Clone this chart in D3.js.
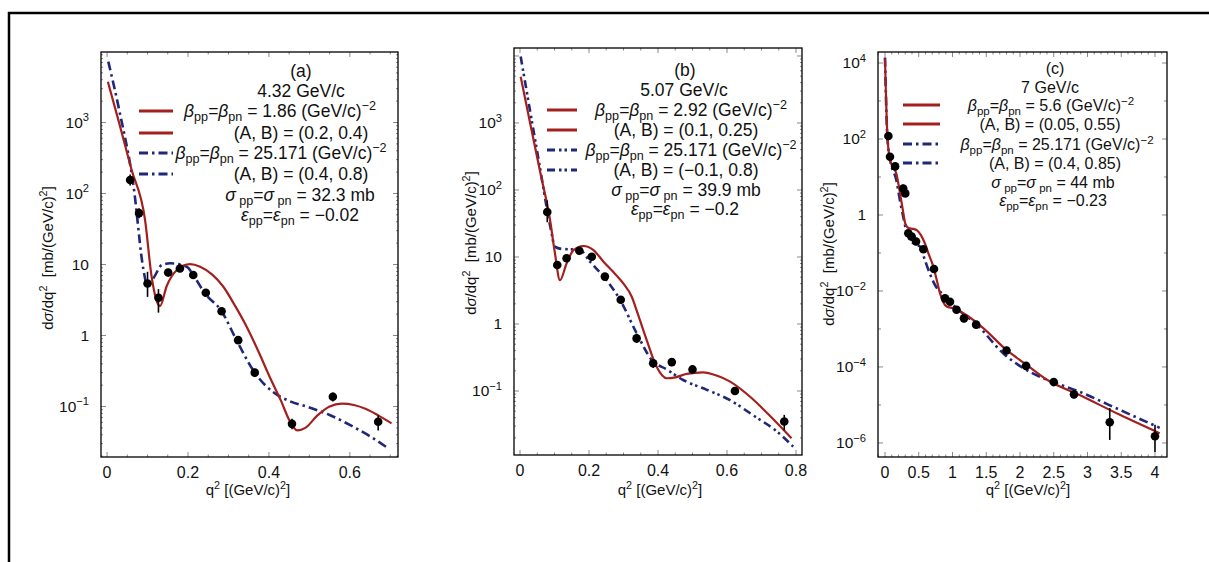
<!DOCTYPE html>
<html>
<head>
<meta charset="utf-8">
<script src="https://cdn.jsdelivr.net/npm/d3@7"></script>
<style>
  body { margin: 0; background: #fff; }
  svg { display: block; font-family: "Liberation Sans", Arial, sans-serif; }
</style>
</head>
<body>
<div id="chart"></div>
<script>
// ---- panel (a) 4.32 GeV/c ----
var qA  = [0.057, 0.079, 0.100, 0.127, 0.151, 0.180, 0.213, 0.244, 0.283, 0.324, 0.365, 0.457, 0.558, 0.670];
var sA  = [155, 53, 5.4, 3.4, 7.7, 8.8, 7.1, 4.0, 2.2, 0.86, 0.30, 0.057, 0.137, 0.061];
var loA = [130, 45, 3.5, 2.1, 6.8, 8.0, 6.4, 3.6, 1.95, 0.76, 0.26, 0.048, 0.118, 0.046];
var hiA = [185, 62, 7.9, 4.5, 8.7, 9.7, 7.9, 4.4, 2.5, 0.97, 0.34, 0.067, 0.158, 0.075];
var qRedA = [0.002, 0.03, 0.06, 0.094, 0.11, 0.127, 0.131, 0.147, 0.172, 0.205, 0.23, 0.26, 0.287, 0.315, 0.345, 0.375, 0.402, 0.43, 0.45, 0.47, 0.49, 0.52, 0.55, 0.58, 0.61, 0.64, 0.67, 0.703];
var vRedA = [3760, 980, 221, 42, 6.8, 2.7, 2.6, 4.9, 8.3, 10.1, 9.3, 7.2, 4.9, 2.7, 1.33, 0.58, 0.26, 0.12, 0.065, 0.046, 0.05, 0.075, 0.1, 0.11, 0.105, 0.092, 0.075, 0.058];
var qBlueA = [0.003, 0.03, 0.066, 0.09, 0.098, 0.114, 0.135, 0.156, 0.197, 0.213, 0.242, 0.283, 0.32, 0.365, 0.41, 0.45, 0.5, 0.55, 0.6, 0.65, 0.694];
var vBlueA = [7200, 1500, 120, 8.4, 5.4, 6.4, 9.8, 10.4, 9.3, 7.1, 3.9, 2.2, 0.86, 0.30, 0.16, 0.12, 0.097, 0.076, 0.055, 0.038, 0.026];
var xTicksA = [0, 0.2, 0.4, 0.6];
var yTicksA = [1e3, 1e2, 10, 1, 0.1];

// ---- panel (b) 5.07 GeV/c ----
var qB  = [0.079, 0.108, 0.135, 0.172, 0.208, 0.246, 0.292, 0.338, 0.386, 0.44, 0.50, 0.623, 0.766];
var sB  = [47, 7.6, 9.6, 12.4, 10.1, 5.1, 2.3, 0.61, 0.26, 0.27, 0.21, 0.10, 0.035];
var loB = [33, 6.6, 8.5, 11, 9, 4.5, 2.0, 0.52, 0.22, 0.235, 0.185, 0.088, 0.026];
var hiB = [70, 8.7, 10.8, 14, 11.3, 5.7, 2.6, 0.72, 0.30, 0.31, 0.24, 0.114, 0.044];
var qRedB = [0.002, 0.03, 0.06, 0.087, 0.1, 0.116, 0.135, 0.155, 0.184, 0.213, 0.242, 0.27, 0.3, 0.324, 0.338, 0.367, 0.396, 0.425, 0.45, 0.483, 0.531, 0.57, 0.609, 0.667, 0.72, 0.787];
var vRedB = [4900, 960, 170, 36, 12.6, 4.5, 8, 12.7, 14.6, 12.7, 8.5, 6.0, 4.0, 2.55, 1.6, 0.58, 0.23, 0.155, 0.16, 0.18, 0.19, 0.17, 0.138, 0.082, 0.045, 0.0197];
var qBlueB = [0.002, 0.03, 0.06, 0.077, 0.09, 0.101, 0.121, 0.15, 0.174, 0.203, 0.251, 0.29, 0.338, 0.382, 0.425, 0.473, 0.54, 0.609, 0.68, 0.74, 0.792];
var vBlueB = [9800, 1430, 185, 56, 25, 14.3, 13.2, 13, 12.7, 8.5, 4.5, 2.3, 0.73, 0.29, 0.21, 0.146, 0.105, 0.073, 0.042, 0.026, 0.0148];
var xTicksB = [0, 0.2, 0.4, 0.6, 0.8];
var yTicksB = [1e3, 1e2, 10, 1, 0.1];

// ---- panel (c) 7 GeV/c ----
var qC  = [0.05, 0.074, 0.15, 0.27, 0.3, 0.345, 0.395, 0.46, 0.568, 0.726, 0.889, 0.963, 1.06, 1.17, 1.35, 1.8, 2.09, 2.5, 2.8, 3.33, 4.0];
var sC  = [120, 34, 19, 5, 3.7, 0.33, 0.27, 0.2, 0.125, 0.038, 0.0064, 0.0052, 0.0032, 0.0019, 0.0013, 0.00027, 0.000107, 4e-5, 1.9e-5, 3.5e-6, 1.5e-6];
var loC = [95, 27, 15, 4, 3, 0.27, 0.22, 0.16, 0.1, 0.03, 0.0052, 0.0042, 0.0026, 0.0015, 0.00105, 0.00022, 8.5e-5, 3.2e-5, 1.5e-5, 1.2e-6, 5.8e-7];
var hiC = [150, 43, 24, 6.3, 4.6, 0.41, 0.34, 0.25, 0.156, 0.047, 0.008, 0.0065, 0.004, 0.0024, 0.0016, 0.00034, 0.000134, 5e-5, 2.4e-5, 8.3e-6, 3e-6];
var qRedC = [0, 0.034, 0.074, 0.17, 0.22, 0.26, 0.3, 0.35, 0.42, 0.47, 0.53, 0.59, 0.65, 0.716, 0.765, 0.815, 0.86, 0.914, 1.01, 1.21, 1.456, 1.8, 2.1, 2.4, 2.89, 3.48, 4.07];
var vRedC = [13000, 141, 28, 12, 4, 1.5, 0.6, 0.45, 0.43, 0.40, 0.3, 0.18, 0.09, 0.044, 0.02, 0.0087, 0.0052, 0.0039, 0.0035, 0.0023, 0.00105, 0.00028, 0.000113, 4.6e-5, 1.8e-5, 5.5e-6, 1.8e-6];
var qBlueC = [0, 0.034, 0.074, 0.17, 0.22, 0.27, 0.32, 0.37, 0.45, 0.52, 0.59, 0.66, 0.74, 0.864, 1.06, 1.36, 1.75, 2.05, 2.34, 2.89, 3.48, 4.07];
var vBlueC = [14000, 120, 30, 8, 2.5, 0.9, 0.36, 0.22, 0.17, 0.147, 0.066, 0.03, 0.0144, 0.0079, 0.0035, 0.0013, 0.00023, 9.3e-5, 5.1e-5, 2.2e-5, 7.4e-6, 2.5e-6];
var xTicksC = [0, 0.5, 1, 1.5, 2, 2.5, 3, 3.5, 4];
var yTicksC = [1e4, 1e2, 1, 1e-2, 1e-4, 1e-6];

// legend texts
function betaLine(v) {
  return [["β", "i"], ["pp", "sub"], "=", ["β", "i"], ["pn", "sub"], " = " + v + " (GeV/c)", ["−2", "sup"]];
}
function sigmaLine(v) {
  return [["σ", "i"], [" pp", "sub"], "=", ["σ", "i"], [" pn", "sub"], " = " + v + " mb"];
}
function epsLine(v) {
  return [["ε", "i"], ["pp", "sub"], "=", ["ε", "i"], ["pn", "sub"], " = " + v];
}
var legendA = [["(a)"], ["4.32 GeV/c"], betaLine("1.86"), ["(A, B) = (0.2, 0.4)"], betaLine("25.171"), ["(A, B) = (0.4, 0.8)"], sigmaLine("32.3"), epsLine("−0.02")];
var legendB = [["(b)"], ["5.07 GeV/c"], betaLine("2.92"), ["(A, B) = (0.1, 0.25)"], betaLine("25.171"), ["(A, B) = (−0.1, 0.8)"], sigmaLine("39.9"), epsLine("−0.2")];
var legendC = [["(c)"], ["7 GeV/c"], betaLine("5.6"), ["(A, B) = (0.05, 0.55)"], betaLine("25.171"), ["(A, B) = (0.4, 0.85)"], sigmaLine("44"), epsLine("−0.23")];

var RED = "#a3201f";
var BLUE = "#1f2778";

var panels = [
  { box: [101, 398, 52, 457], xDom: [-0.015, 0.719], yDom: [Math.pow(10, -1.711), Math.pow(10, 3.993)],
    xTicks: xTicksA, xMinor: 0.05, yTicks: yTicksA, q: qA, s: sA, lo: loA, hi: hiA,
    red: [qRedA, vRedA], blue: [qBlueA, vBlueA], dash: "9,4,2.5,4",
    legend: legendA, legX: [301, 301, 280, 301, 281, 301, 300, 300], legY: [71, 91, 111, 133, 153, 174, 195, 215],
    legSize: 17.5, sample: [139, 173], ylab: [47, 258], xlab: [248, 490] },
  { box: [514, 802, 48, 455], xDom: [-0.0174, 0.8174], yDom: [Math.pow(10, -1.955), Math.pow(10, 4.119)],
    xTicks: xTicksB, xMinor: 0.05, yTicks: yTicksB, q: qB, s: sB, lo: loB, hi: hiB,
    red: [qRedB, vRedB], blue: [qBlueB, vBlueB], dash: "8,4,2.5,3,2.5,4",
    legend: legendB, legX: [685, 684, 691, 686, 691, 686, 686, 685], legY: [70, 90, 110, 130, 150, 170, 190, 209],
    legSize: 17.5, sample: [547, 577], ylab: [470, 243], xlab: [660, 490] },
  { box: [878, 1167, 52, 457], xDom: [-0.1037, 4.178], yDom: [Math.pow(10, -6.37), Math.pow(10, 4.29)],
    xTicks: xTicksC, xMinor: 0.1, yTicks: yTicksC, q: qC, s: sC, lo: loC, hi: hiC,
    red: [qRedC, vRedC], blue: [qBlueC, vBlueC], dash: "9,4,2.5,4",
    legend: legendC, legX: [1055, 1050, 1051, 1050, 1057, 1055, 1053, 1053], legY: [68, 87, 105, 124, 144, 163, 182, 200],
    legSize: 16, sample: [903, 940], ylab: [828, 254], xlab: [1028, 490] }
];

var svg = d3.select("#chart").append("svg")
  .attr("width", 1209)
  .attr("height", 562);

svg.append("rect").attr("width", 1209).attr("height", 562).attr("fill", "#fff");

// outer figure border
svg.append("rect")
  .attr("x", 9).attr("y", 13)
  .attr("width", 1260).attr("height", 620)
  .attr("fill", "none").attr("stroke", "#000").attr("stroke-width", 2.5);

// text with italic / sub / sup pieces
function richText(sel, x, y, parts, size, anchor) {
  var t = sel.append("text")
    .attr("x", x).attr("y", y)
    .attr("font-size", size)
    .attr("text-anchor", anchor || "middle")
    .attr("fill", "#111");
  var shift = 0;
  parts.forEach(function(p) {
    var s = typeof p === "string" ? [p, ""] : p;
    var target = s[1] === "sub" ? size * 0.22 : s[1] === "sup" ? -size * 0.4 : 0;
    var ts = t.append("tspan").attr("dy", target - shift).text(s[0].replace(/ /g, "\u00a0"));
    shift = target;
    if (s[1] === "sub" || s[1] === "sup") ts.attr("font-size", size * 0.72);
    if (s[1] === "i") ts.attr("font-style", "italic");
  });
  return t;
}

function powLabel(v) {
  var e = Math.round(Math.log10(v));
  if (e === 0) return ["1"];
  if (e === 1) return ["10"];
  return ["10", [e < 0 ? "−" + (-e) : String(e), "sup"]];
}

panels.forEach(function(p, pi) {
  var x0 = p.box[0], x1 = p.box[1], y0 = p.box[2], y1 = p.box[3];
  var x = d3.scaleLinear().domain(p.xDom).range([x0, x1]);
  var y = d3.scaleLog().domain(p.yDom).range([y1, y0]);
  var g = svg.append("g");

  var clipId = "clip" + pi;
  svg.append("clipPath").attr("id", clipId)
    .append("rect").attr("x", x0).attr("y", y0).attr("width", x1 - x0).attr("height", y1 - y0);

  // ticks (inward, on all four sides)
  var tickG = g.append("g").attr("stroke", "#8a8a8a").attr("stroke-width", 1);
  var xm = d3.range(Math.ceil(p.xDom[0] / p.xMinor), Math.floor(p.xDom[1] / p.xMinor) + 1).map(function(k) { return k * p.xMinor; });
  xm.forEach(function(v) {
    var major = p.xTicks.some(function(t) { return Math.abs(t - v) < 1e-9; });
    var len = major ? 5 : 2.5;
    tickG.append("line").attr("x1", x(v)).attr("x2", x(v)).attr("y1", y1).attr("y2", y1 - len);
    tickG.append("line").attr("x1", x(v)).attr("x2", x(v)).attr("y1", y0).attr("y2", y0 + len);
  });
  var lo = Math.floor(Math.log10(p.yDom[0])), hi = Math.ceil(Math.log10(p.yDom[1]));
  for (var e = lo; e <= hi; e++) {
    var step = pi === 2 ? [1] : [1, 2, 3, 4, 5, 6, 7, 8, 9];
    step.forEach(function(m) {
      var v = m * Math.pow(10, e);
      if (v < p.yDom[0] || v > p.yDom[1]) return;
      var len = m === 1 ? (pi === 2 && e % 2 !== 0 ? 3 : 5) : 2;
      tickG.append("line").attr("x1", x0).attr("x2", x0 + len).attr("y1", y(v)).attr("y2", y(v));
      tickG.append("line").attr("x1", x1).attr("x2", x1 - len).attr("y1", y(v)).attr("y2", y(v));
    });
  }

  // frame
  g.append("rect")
    .attr("x", x0).attr("y", y0).attr("width", x1 - x0).attr("height", y1 - y0)
    .attr("fill", "none").attr("stroke", "#000").attr("stroke-width", 1.3);

  // tick labels
  p.xTicks.forEach(function(v) {
    g.append("text")
      .attr("x", x(v)).attr("y", y1 + 21)
      .attr("text-anchor", "middle").attr("font-size", 16).attr("fill", "#111")
      .text(d3.format("~g")(v));
  });
  p.yTicks.forEach(function(v) {
    richText(g, x0 - 12, y(v) + 5, powLabel(v), 15.5, "end");
  });

  // axis titles
  var yl = g.append("g").attr("transform", "translate(" + p.ylab[0] + "," + p.ylab[1] + ") rotate(-90)");
  richText(yl, 0, 6, ["d", ["σ", "i"], "/dq", ["2", "sup"], "  [mb/(GeV/c)", ["2", "sup"], "]"], 15, "middle");
  richText(g, p.xlab[0], p.xlab[1] + 5, ["q", ["2", "sup"], " [(GeV/c)", ["2", "sup"], "]"], 15, "middle");

  // theory curves
  var line = d3.line()
    .x(function(d) { return x(d[0]); })
    .y(function(d) { return y(d[1]); })
    .curve(d3.curveMonotoneX);
  var curves = g.append("g").attr("clip-path", "url(#" + clipId + ")");
  curves.append("path")
    .datum(d3.zip(p.blue[0], p.blue[1]))
    .attr("d", line)
    .attr("fill", "none").attr("stroke", BLUE).attr("stroke-width", 2.6)
    .attr("stroke-dasharray", p.dash);
  curves.append("path")
    .datum(d3.zip(p.red[0], p.red[1]))
    .attr("d", line)
    .attr("fill", "none").attr("stroke", RED).attr("stroke-width", 2.2);

  // data points with error bars
  var pts = g.append("g").attr("clip-path", "url(#" + clipId + ")");
  p.q.forEach(function(qv, i) {
    pts.append("line")
      .attr("x1", x(qv)).attr("x2", x(qv))
      .attr("y1", y(p.lo[i])).attr("y2", y(p.hi[i]))
      .attr("stroke", "#000").attr("stroke-width", 1.6);
    pts.append("circle")
      .attr("cx", x(qv)).attr("cy", y(p.s[i]))
      .attr("r", 4.3).attr("fill", "#000");
  });

  // legend
  var leg = g.append("g");
  p.legend.forEach(function(parts, i) {
    richText(leg, p.legX[i], p.legY[i] + 6, parts, p.legSize, "middle");
  });
  [2, 3, 4, 5].forEach(function(i) {
    var isRed = i < 4;
    leg.append("line")
      .attr("x1", p.sample[0]).attr("x2", p.sample[1])
      .attr("y1", p.legY[i]).attr("y2", p.legY[i])
      .attr("stroke", isRed ? RED : BLUE)
      .attr("stroke-width", 3)
      .attr("stroke-dasharray", isRed ? null : p.dash);
  });
});
</script>
</body>
</html>
